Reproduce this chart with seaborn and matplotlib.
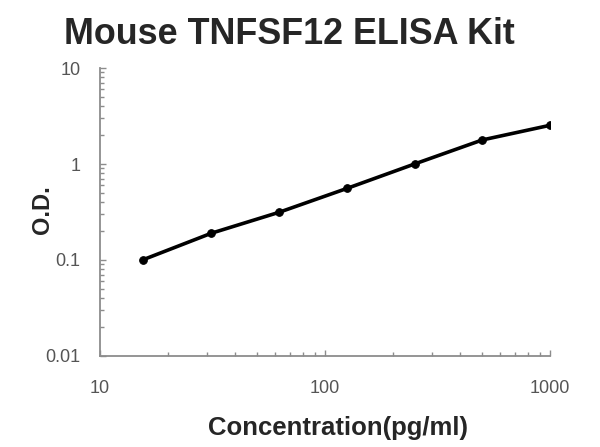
import matplotlib
matplotlib.use("Agg")
import matplotlib.pyplot as plt
import seaborn as sns
import pandas as pd
from matplotlib.ticker import LogLocator, NullFormatter

# standard curve values
conc = [15.6, 31.25, 62.5, 125, 250, 500, 1000]
od = [0.101, 0.19, 0.314, 0.556, 1.0, 1.78, 2.53]
x_ticks = [10, 100, 1000]
x_labels = ["10", "100", "1000"]
y_ticks = [0.01, 0.1, 1, 10]
y_labels = ["0.01", "0.1", "1", "10"]

df = pd.DataFrame({"Concentration": conc, "OD": od})

sns.set_style("ticks")
plt.rcParams['font.family'] = ['Liberation Sans', 'DejaVu Sans']

fig = plt.figure(figsize=(6, 4.47), dpi=100)
ax = fig.add_axes([100/600, 1-356/447, 450/600, 288/447])

sns.lineplot(data=df, x="Concentration", y="OD", color="black", linewidth=2.6,
             marker="o", markersize=5.5, markeredgecolor="black", ax=ax)
ax.set_xscale("log")
ax.set_yscale("log")
ax.set_xlim(10, 1000)
ax.set_ylim(0.01, 10)

ax.set_xticks(x_ticks)
ax.set_xticklabels(x_labels)
ax.set_yticks(y_ticks)
ax.set_yticklabels(y_labels)
ax.xaxis.set_minor_locator(LogLocator(base=10, subs=range(2, 10)))
ax.yaxis.set_minor_locator(LogLocator(base=10, subs=range(2, 10)))
ax.xaxis.set_minor_formatter(NullFormatter())
ax.yaxis.set_minor_formatter(NullFormatter())

grey = "#8c8c8c"
for side in ["top", "right"]:
    ax.spines[side].set_visible(False)
for side in ["left", "bottom"]:
    ax.spines[side].set_color(grey)
    ax.spines[side].set_linewidth(1.3)

ax.tick_params(axis="both", which="both", direction="in", color=grey, width=1)
ax.tick_params(axis="both", which="major", length=4, labelsize=13,
               labelcolor="#555555")
ax.tick_params(axis="both", which="minor", length=3)
ax.tick_params(axis="x", which="major", pad=17)
ax.tick_params(axis="y", which="major", pad=14)

ax.set_xlabel("Concentration(pg/ml)", fontsize=18.5, fontweight="bold",
              va="center")
ax.xaxis.set_label_coords(0.529, -0.25)
ax.set_ylabel("O.D.", fontsize=17, fontweight="bold", va="center")
ax.yaxis.set_label_coords(-0.127, 0.507)

fig.text(289/600, 1-35/447, "Mouse TNFSF12 ELISA Kit", fontsize=25.8,
         fontweight="bold", ha="center", va="center")

fig.savefig("out.png", dpi=100)
